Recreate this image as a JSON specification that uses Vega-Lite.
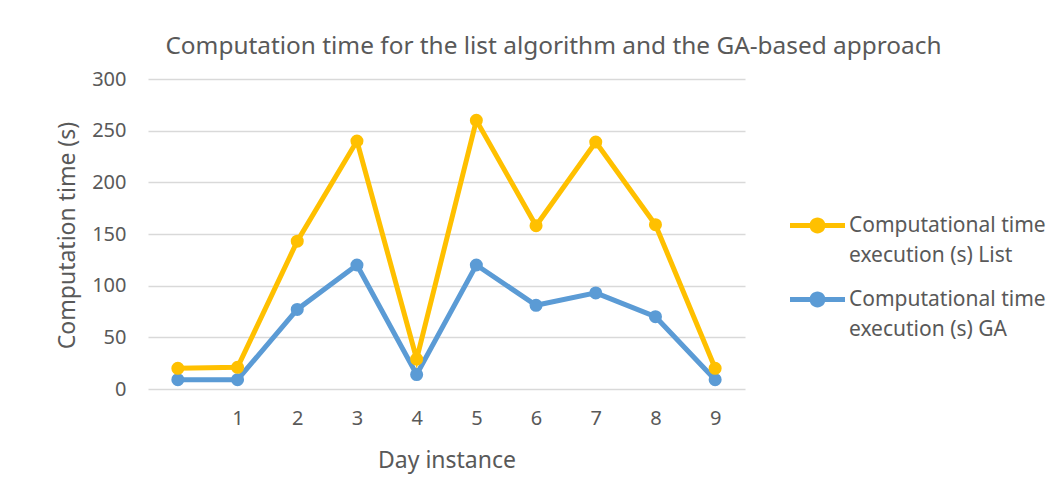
{
  "$schema": "https://vega.github.io/schema/vega-lite/v6.json",
  "width": 597,
  "height": 310,
  "autosize": {"type": "none"},
  "padding": {"left": 148, "top": 79, "right": 318, "bottom": 95},
  "background": "white",
  "title": {
    "text": "Computation time for the list algorithm and the GA-based approach",
    "anchor": "middle",
    "dx": 107,
    "offset": -9,
    "baseline": "alphabetic",
    "fontSize": 24.4,
    "font": "Noto Sans",
    "fontWeight": "normal",
    "color": "#595959"
  },
  "data": {
    "values": [
      {"day": 0, "series": "Computational time execution (s) GA", "value": 9},
      {"day": 1, "series": "Computational time execution (s) GA", "value": 9},
      {"day": 2, "series": "Computational time execution (s) GA", "value": 77},
      {"day": 3, "series": "Computational time execution (s) GA", "value": 120},
      {"day": 4, "series": "Computational time execution (s) GA", "value": 14},
      {"day": 5, "series": "Computational time execution (s) GA", "value": 120},
      {"day": 6, "series": "Computational time execution (s) GA", "value": 81},
      {"day": 7, "series": "Computational time execution (s) GA", "value": 93},
      {"day": 8, "series": "Computational time execution (s) GA", "value": 70},
      {"day": 9, "series": "Computational time execution (s) GA", "value": 9},
      {"day": 0, "series": "Computational time execution (s) List", "value": 20},
      {"day": 1, "series": "Computational time execution (s) List", "value": 21},
      {"day": 2, "series": "Computational time execution (s) List", "value": 143},
      {"day": 3, "series": "Computational time execution (s) List", "value": 240},
      {"day": 4, "series": "Computational time execution (s) List", "value": 29},
      {"day": 5, "series": "Computational time execution (s) List", "value": 260},
      {"day": 6, "series": "Computational time execution (s) List", "value": 158},
      {"day": 7, "series": "Computational time execution (s) List", "value": 239},
      {"day": 8, "series": "Computational time execution (s) List", "value": 159},
      {"day": 9, "series": "Computational time execution (s) List", "value": 20}
    ]
  },
  "mark": {"type": "line", "strokeWidth": 5, "point": {"filled": true, "size": 170}},
  "encoding": {
    "x": {
      "field": "day",
      "type": "quantitative",
      "scale": {"domain": [-0.5, 9.5], "nice": false, "zero": false},
      "axis": {
        "values": [1, 2, 3, 4, 5, 6, 7, 8, 9],
        "grid": false,
        "ticks": false,
        "tickSize": 0,
        "domain": false,
        "labelPadding": 19,
        "labelFontSize": 20,
        "title": "Day instance",
        "titleFontSize": 23,
        "titleX": 298.5,
        "titleY": 71,
        "titleBaseline": "middle"
      }
    },
    "y": {
      "field": "value",
      "type": "quantitative",
      "scale": {"domain": [0, 300], "nice": false},
      "axis": {
        "values": [0, 50, 100, 150, 200, 250, 300],
        "grid": true,
        "gridColor": "#d9d9d9",
        "gridWidth": 1.5,
        "ticks": false,
        "tickSize": 0,
        "domain": false,
        "labelPadding": 22,
        "labelFontSize": 20,
        "title": "Computation time (s)",
        "titleFontSize": 23,
        "titleAngle": -90,
        "titleX": -81,
        "titleY": 156,
        "titleBaseline": "middle",
        "titleAlign": "center"
      }
    },
    "color": {
      "field": "series",
      "type": "nominal",
      "scale": {
        "domain": ["Computational time execution (s) List", "Computational time execution (s) GA"],
        "range": ["#FFC000", "#5B9BD5"]
      },
      "legend": {
        "title": null,
        "orient": "none",
        "legendX": 642,
        "legendY": 119,
        "labelFontSize": 21,
        "labelColor": "#595959",
        "labelFont": "Noto Sans",
        "labelLimit": 300,
        "labelOffset": 4,
        "labelExpr": "[slice(datum.label, 0, 18), slice(datum.label, 19)]",
        "symbolType": "M -1 -0.09 L 1 -0.09 L 1 0.09 L -1 0.09 Z M 0.29 0 A 0.29 0.29 0 1 1 -0.29 0 A 0.29 0.29 0 1 1 0.29 0 Z",
        "symbolSize": 3025,
        "symbolStrokeWidth": 0,
        "rowPadding": 6,
        "encode": {
          "labels": {"update": {"lineHeight": {"value": 30}}}
        }
      }
    }
  },
  "config": {
    "font": "Noto Sans",
    "view": {"stroke": null},
    "axis": {
      "labelColor": "#595959",
      "titleColor": "#595959",
      "labelFont": "Noto Sans",
      "titleFont": "Noto Sans",
      "titleFontWeight": "normal"
    }
  }
}
